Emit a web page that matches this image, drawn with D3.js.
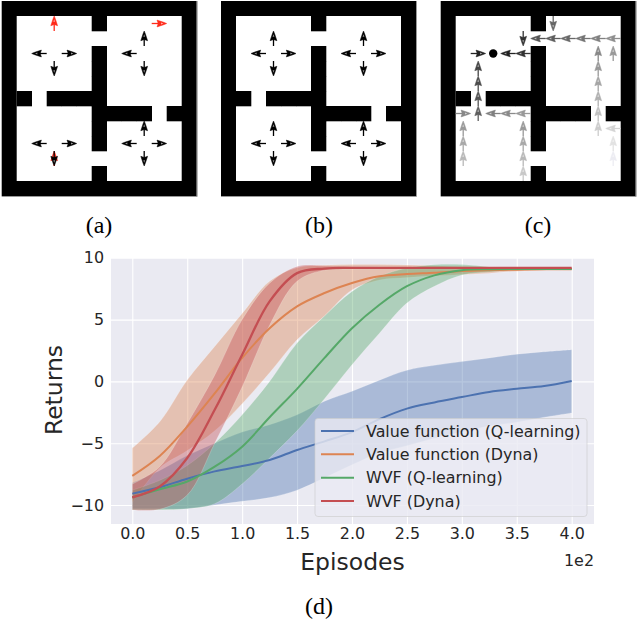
<!DOCTYPE html>
<html><head><meta charset="utf-8">
<script src="https://cdn.jsdelivr.net/npm/d3@7/dist/d3.min.js"></script>
<style>html,body{margin:0;padding:0;background:#fff}svg{display:block}</style></head>
<body><svg id="c" width="638" height="622"></svg>
<script>
// ---------- data ----------
const episodes = [0,25,50,75,100,125,150,175,200,225,250,275,300,325,350,375,400];
const seriesNames = ["Value function (Q-learning)","Value function (Dyna)","WVF (Q-learning)","WVF (Dyna)"];
const seriesColors = ["#4c72b0","#dd8452","#55a868","#c44e52"];
const blueMean  = [-9.08,-8.57,-7.87,-7.28,-6.85,-6.36,-5.55,-4.85,-4.1,-3.05,-2.2,-1.7,-1.27,-0.85,-0.6,-0.38,0.03];
const blueUpper = [-8.2,-7.2,-6.0,-5.0,-4.1,-3.5,-2.7,-1.6,-0.8,0.1,0.9,1.3,1.6,1.9,2.2,2.4,2.57];
const blueLower = [-10.3,-10.3,-10.3,-10.0,-9.7,-9.4,-8.8,-7.8,-6.75,-5.8,-5.2,-4.6,-4.1,-3.6,-3.3,-2.9,-2.55];
const orangeMean  = [-7.65,-6.04,-3.66,-0.97,1.9,4.3,6.07,7.15,7.96,8.5,8.68,8.79,8.93,9.0,9.04,9.07,9.08];
const orangeUpper = [-5.4,-3.26,0.11,2.83,5.5,8.1,9.2,9.4,9.45,9.45,9.42,9.36,9.3,9.25,9.2,9.16,9.13];
const orangeLower = [-9.8,-7.0,-5.6,-4.0,-1.8,0.7,3.37,5.3,7.4,8.2,8.4,8.54,8.65,8.76,8.92,9.0,9.03];
const greenMean  = [-9.38,-8.73,-8.1,-6.9,-5.28,-2.9,-0.6,1.9,4.3,6.2,7.7,8.58,9.0,9.08,9.1,9.1,9.1];
const greenUpper = [-8.8,-8.0,-6.8,-5.0,-2.7,0.0,3.1,5.3,7.28,8.5,9.17,9.44,9.45,9.26,9.14,9.13,9.13];
const greenLower = [-10.4,-10.4,-10.3,-9.9,-8.3,-6.2,-4.0,-1.4,1.35,3.9,6.34,7.69,8.6,8.86,9.0,9.05,9.08];
const redMean  = [-9.38,-8.5,-6.2,-2.3,2.16,6.47,8.76,9.13,9.18,9.18,9.18,9.18,9.18,9.18,9.18,9.18,9.18];
const redUpper = [-8.3,-6.9,-3.4,0.5,5.0,7.95,9.3,9.35,9.3,9.25,9.22,9.22,9.22,9.22,9.22,9.22,9.22];
const redLower = [-10.4,-10.35,-9.2,-5.0,-0.45,4.55,8.1,9.0,9.1,9.12,9.12,9.12,9.12,9.12,9.12,9.12,9.12];
const means = [blueMean,orangeMean,greenMean,redMean];
const uppers = [blueUpper,orangeUpper,greenUpper,redUpper];
const lowers = [blueLower,orangeLower,greenLower,redLower];
const xTicks = [0,50,100,150,200,250,300,350,400];
const yTicks = [-10,-5,0,5,10];

// gridworld: wall cells as [row, col] beyond the outer border
const wallCells = [[1,6],[3,6],[4,6],[5,6],[6,6],[7,6],[8,6],[9,6],[11,6],[6,1],[6,3],[6,4],[6,5],[7,7],[7,8],[7,9],[7,11]];
// arrows: [row, col, direction, colour]
const K="#000", R="#ff2a1a";
const panelA = [[1,3,"u",R],[1,10,"r",R],[3,2,"l",K],[3,4,"r",K],[4,3,"d",K],[2,9,"u",K],[3,8,"l",K],[4,9,"d",K],
  [9,2,"l",K],[9,4,"r",K],[10,3,"u",R],[10,3,"d",K],[8,9,"u",K],[9,8,"l",K],[9,10,"r",K],[10,9,"d",K]];
const panelB = [[2,3,"u",K],[3,2,"l",K],[3,4,"r",K],[4,3,"d",K],[2,9,"u",K],[3,8,"l",K],[3,10,"r",K],[4,9,"d",K],
  [8,3,"u",K],[9,2,"l",K],[9,4,"r",K],[10,3,"d",K],[8,9,"u",K],[9,8,"l",K],[9,10,"r",K],[10,9,"d",K]];
const panelC = [[3,2,"r","#222"],[3,4,"l","#222"],[3,5,"l","#333"],[2,5,"d","#333"],
  [2,6,"l","#555"],[2,7,"l","#5e5e5e"],[2,8,"l","#686868"],[2,9,"l","#747474"],[2,10,"l","#808080"],[2,11,"l","#8e8e8e"],[1,7,"d","#666"],
  [3,10,"u","#888"],[3,11,"u","#999"],[4,10,"u","#999"],[5,10,"u","#a5a5a5"],[6,10,"u","#b0b0b0"],[7,10,"u","#c0c0c0"],[8,10,"u","#cccccc"],
  [8,11,"l","#d4d4d4"],[9,11,"u","#e2e2e2"],[10,11,"u","#ececf2"],
  [4,2,"u","#444"],[5,2,"u","#4c4c4c"],[6,2,"u","#555"],[7,2,"u","#5e5e5e"],
  [7,1,"r","#888"],[7,3,"l","#808080"],[7,4,"l","#8a8a8a"],[7,5,"l","#999"],
  [8,1,"u","#999"],[9,1,"u","#a8a8a8"],[10,1,"u","#b8b8b8"],
  [8,5,"u","#999"],[9,5,"u","#a8a8a8"],[10,5,"u","#b8b8b8"],[11,5,"u","#c8c8c8"]];
const panelCDot = [[3,3]];
const panelOrigins = [1.7,221,440.7];
const panelLabels = ["(a)","(b)","(c)"];
const labelX = [99,319,538];

// ---------- gridworlds ----------
const svg = d3.select("#c");
const cells = d3.range(13);
const panelArrows = [panelA,panelB,panelC];
const pos = d3.scaleBand().domain(cells).range([0,195]);
const cs = pos.bandwidth();
const angle = {u:-90,d:90,l:180,r:0};
panelOrigins.forEach((ox,i)=>{
  const g = svg.append("g").attr("transform",`translate(${ox},1)`);
  g.append("rect").attr("width",195).attr("height",195).attr("fill","#000");
  g.append("rect").attr("x",pos(1)).attr("y",pos(1)).attr("width",cs*11).attr("height",cs*11).attr("fill","#fff");
  g.selectAll("rect.w").data(wallCells).join("rect").attr("class","w")
    .attr("x",d=>pos(d[1])).attr("y",d=>pos(d[0])).attr("width",cs+.3).attr("height",cs+.3).attr("fill","#000");
  g.append("path").attr("d","M195.5,0V195.5H0").attr("fill","none").attr("stroke","#999").attr("stroke-width",1);
  const a = g.selectAll("g.a").data(panelArrows[i]).join("g").attr("class","a")
    .attr("transform",d=>`translate(${pos(d[1])+cs/2},${pos(d[0])+cs/2}) rotate(${angle[d[2]]})`);
  a.append("line").attr("x1",-cs/2).attr("x2",0).attr("stroke",d=>d[3]).attr("stroke-width",1.3);
  a.append("path").attr("d",`M${cs/2},0L4.5,-1.2L-2.2,-3.4L-1,0L-2.2,3.4L4.5,1.2Z`).attr("fill",d=>d[3]).attr("stroke",d=>d[3]).attr("stroke-width",.5);
  a.append("path").attr("d","M4.2,0L1.8,-.9V.9Z").attr("fill","#fff").attr("opacity",.6);
  if(i===2){
    g.selectAll("circle").data(panelCDot).join("circle")
      .attr("cx",d=>pos(d[1])+cs/2).attr("cy",d=>pos(d[0])+cs/2).attr("r",4.2).attr("fill","#000");
  }
  svg.append("text").attr("x",labelX[i]).attr("y",233).attr("text-anchor","middle")
    .attr("font-family","Liberation Serif").attr("font-size",24).attr("fill","#000").text(panelLabels[i]);
});
svg.append("text").attr("x",319).attr("y",614).attr("text-anchor","middle")
  .attr("font-family","Liberation Serif").attr("font-size",24).attr("fill","#000").text("(d)");

// ---------- chart ----------
const F = "DejaVu Sans", INK = "#262626";
const box = {l:111,r:594,t:258,b:524};
const x = d3.scaleLinear().domain([0,400]).range([132.3,571.7]);
const y = d3.scaleLinear().domain([-10,10]).range([505,257.8]);
svg.append("rect").attr("x",box.l).attr("y",box.t).attr("width",box.r-box.l).attr("height",box.b-box.t).attr("fill","#eaeaf2");

const xAxis = d3.axisBottom(x).tickValues(xTicks).tickSize(box.b-box.t).tickPadding(4).tickFormat(d=>d3.format(".1f")(d/100));
const gx = svg.append("g").attr("transform",`translate(0,${box.t})`).call(xAxis);
const yAxis = d3.axisLeft(y).tickValues(yTicks).tickSize(box.r-box.l).tickPadding(7).tickFormat(d=>d<0?"\u2212"+(-d):d);
const gy = svg.append("g").attr("transform",`translate(${box.r},0)`).call(yAxis);
[gx,gy].forEach(g=>{
  g.select(".domain").remove();
  g.selectAll(".tick line").attr("stroke","#fff").attr("stroke-width",1.1);
  g.selectAll(".tick text").attr("font-family",F).attr("font-size",15.9).attr("fill",INK);
});
const curve = d3.curveCatmullRom.alpha(0.5);
const area = (u,l)=>d3.area().x((d,i)=>x(episodes[i])).y0((d,i)=>y(l[i])).y1((d,i)=>y(u[i])).curve(curve)(episodes);
const line = m=>d3.line().x((d,i)=>x(episodes[i])).y((d,i)=>y(m[i])).curve(curve)(episodes);
seriesColors.forEach((c,k)=>{
  svg.append("path").attr("d",area(uppers[k],lowers[k])).attr("fill",c).attr("fill-opacity",.4)
    .attr("stroke","#fff").attr("stroke-opacity",.25).attr("stroke-width",.8);
});
seriesColors.forEach((c,k)=>{
  svg.append("path").attr("d",line(means[k])).attr("fill","none").attr("stroke",c).attr("stroke-width",k===3?2.3:2);
});
// legend
const legendY = d3.scalePoint().domain(seriesNames).range([431,501]);
svg.append("rect").attr("x",315).attr("y",418.5).attr("width",272).attr("height",98).attr("rx",3)
  .attr("fill","#eaeaf2").attr("fill-opacity",.8).attr("stroke","#cccccc").attr("stroke-opacity",.8).attr("stroke-width",.8);
const lg = svg.selectAll("g.lg").data(seriesNames).join("g").attr("class","lg");
lg.append("line").attr("x1",321).attr("x2",354).attr("y1",d=>legendY(d)).attr("y2",d=>legendY(d))
  .attr("stroke",(d,i)=>seriesColors[i]).attr("stroke-width",2);
lg.append("text").attr("x",366).attr("y",d=>legendY(d)).attr("dy","0.36em")
  .attr("font-family",F).attr("font-size",15.9).attr("fill",INK).text(d=>d);
// labels
svg.append("text").attr("x",352.5).attr("y",570).attr("text-anchor","middle").attr("font-family",F).attr("font-size",23.5).attr("fill",INK).text("Episodes");
svg.append("text").attr("transform","translate(62,390) rotate(-90)").attr("text-anchor","middle").attr("font-family",F).attr("font-size",23.5).attr("fill",INK).text("Returns");
svg.append("text").attr("x",594).attr("y",566).attr("text-anchor","end").attr("font-family",F).attr("font-size",15.9).attr("fill",INK).text("1e2");
</script></body></html>
